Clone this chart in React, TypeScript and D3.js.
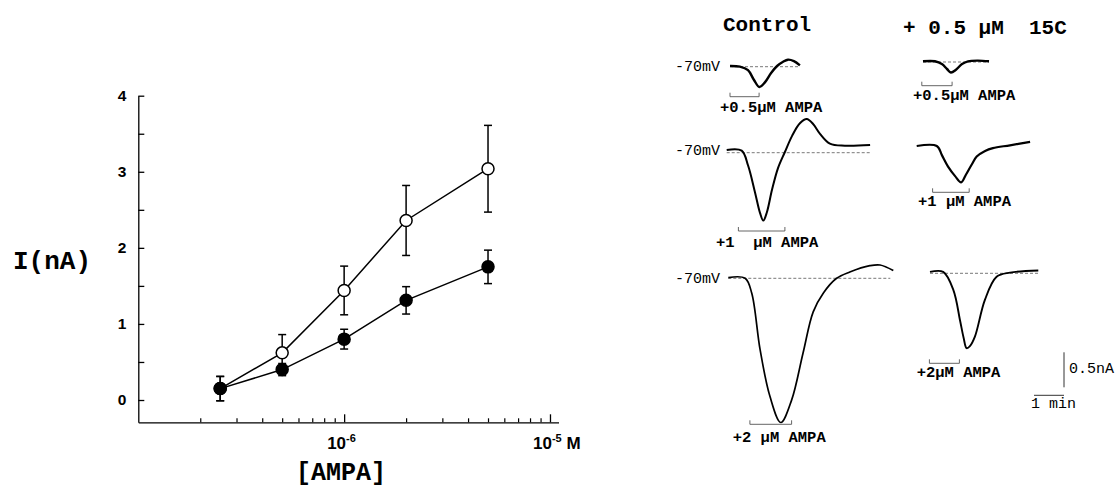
import React, { useEffect, useRef } from "react";
import * as d3 from "d3";

// dose-response: [AMPA] (M) vs current (nA)
const concentrations = [2.5e-7, 5e-7, 1e-6, 2e-6, 5e-6];
const filledMean = [0.15, 0.4, 0.8, 1.31, 1.75];
const filledSem = [0.16, 0.08, 0.13, 0.18, 0.22];
const openMean = [0.15, 0.62, 1.44, 2.36, 3.04];
const openSem = [0.16, 0.24, 0.32, 0.46, 0.57];
const yTicks = [0, 1, 2, 3, 4];
const yMinorTicks = [0.5, 1.5, 2.5, 3.5];
const xMajorTicks = [1e-6, 1e-5];
const xMinorTicks = [2, 3, 4, 5, 6, 7, 8, 9].flatMap((m) => [m * 1e-7, m * 1e-6]);

// current traces: [time (min), current (nA)], inward current negative
const ctrl05: [number, number][] = [
  [0, 0.01], [0.33, 0], [0.6, -0.05], [0.8, -0.19], [0.98, -0.29], [1.17, -0.22],
  [1.37, -0.09], [1.57, 0.01], [1.77, 0.07], [1.93, 0.1], [2.13, 0.08], [2.33, 0.02],
];
const ctrl1: [number, number][] = [
  [0, 0.04], [0.5, 0.03], [0.71, -0.18], [0.94, -0.56], [1.11, -0.86], [1.22, -0.97],
  [1.34, -0.85], [1.51, -0.53], [1.71, -0.22], [1.94, 0.01], [2.18, 0.24], [2.44, 0.42],
  [2.67, 0.48], [2.88, 0.41], [3.11, 0.27], [3.44, 0.13], [3.94, 0.1], [4.78, 0.11],
];
const ctrl2: [number, number][] = [
  [0, 0.01], [0.56, 0], [0.78, -0.21], [1.06, -1.02], [1.39, -1.69], [1.75, -2.06],
  [2.11, -1.74], [2.49, -1.07], [2.83, -0.48], [3.17, -0.21], [3.61, 0], [4.05, 0.09],
  [4.72, 0.18], [5.06, 0.19], [5.5, 0.11],
];
const c15_05: [number, number][] = [
  [0, 0.01], [0.4, 0.01], [0.63, -0.03], [0.8, -0.1], [0.93, -0.15], [1.1, -0.11],
  [1.3, -0.03], [1.5, 0.01], [1.83, 0.02], [2.2, 0.01],
];
const c15_1: [number, number][] = [
  [0, 0], [0.67, 0], [0.84, -0.13], [1.04, -0.29], [1.28, -0.43], [1.48, -0.52],
  [1.64, -0.41], [1.84, -0.26], [2.0, -0.15], [2.28, -0.07], [2.54, -0.03], [3.11, 0.01],
  [3.78, 0.06],
];
const c15_2: [number, number][] = [
  [0, 0.02], [0.44, 0.02], [0.78, -0.24], [1.0, -0.67], [1.12, -0.92], [1.22, -1.07],
  [1.33, -1.04], [1.5, -0.9], [1.83, -0.38], [2.22, -0.05], [2.67, 0.01], [3.61, 0.04],
];

const traceLabels = ["+0.5\u03bcM AMPA", "+1  \u03bcM AMPA", "+2 \u03bcM AMPA", "+0.5\u03bcM AMPA", "+1 \u03bcM AMPA", "+2\u03bcM AMPA"];
const applyStart = [0, 0.39, 0.72, -0.04, 0.53, -0.02];
const applyEnd = [0.97, 1.94, 2.11, 0.97, 1.75, 0.98];
const baselineEnd = [2.33, 4.78, 5.4, 2.2, 0, 3.6];

const MONO = "'Liberation Mono', 'Courier New', monospace";
const SANS = "'Liberation Sans', Arial, sans-serif";

export default function App() {
  const ref = useRef<SVGSVGElement | null>(null);

  useEffect(() => {
    document.body.style.margin = "0";
    const svg = d3.select(ref.current);
    svg.selectAll("*").remove();

    // ---------- left: dose-response ----------
    const x = d3.scaleLog().domain([1e-7, 1.1e-5]).range([138.3, 558.5]);
    const y = d3.scaleLinear().domain([-0.293, 4]).range([422.3, 95.7]);

    const yAxis = svg
      .append("g")
      .attr("transform", `translate(${x.range()[0]},0)`)
      .call(
        d3
          .axisLeft(y)
          .tickValues([...yTicks, ...yMinorTicks])
          .tickSizeInner(-6)
          .tickSizeOuter(0)
          .tickPadding(12)
          .tickFormat((d) => (Number.isInteger(+d) ? String(d) : ""))
      );
    yAxis.selectAll("path,line").attr("stroke", "#000").attr("stroke-width", 1.3);
    yAxis
      .selectAll("text")
      .style("font-family", SANS)
      .style("font-weight", "bold")
      .style("font-size", "15.5px")
      .attr("fill", "#000");

    const xBase = y.range()[0];
    const xAxis = svg
      .append("g")
      .attr("transform", `translate(0,${xBase})`)
      .call(d3.axisBottom(x).tickValues(xMajorTicks).tickSizeInner(-8).tickSizeOuter(0).tickFormat(() => ""));
    xAxis.selectAll("path,line").attr("stroke", "#000").attr("stroke-width", 1.3);
    const xMinor = svg
      .append("g")
      .attr("transform", `translate(0,${xBase})`)
      .call(d3.axisBottom(x).tickValues(xMinorTicks).tickSizeInner(-4).tickSizeOuter(0).tickFormat(() => ""));
    xMinor.select("path").remove();
    xMinor.selectAll("line").attr("stroke", "#000").attr("stroke-width", 1.2);

    // x tick labels with superscript exponent
    const xl = [
      { v: 1e-6, exp: "-6", unit: "" },
      { v: 1e-5, exp: "-5", unit: " M" },
    ];
    xl.forEach((t) => {
      const txt = svg
        .append("text")
        .attr("x", x(t.v) - 17)
        .attr("y", 449)
        .style("font-family", SANS)
        .style("font-weight", "bold")
        .style("font-size", "17px")
        .attr("fill", "#000");
      txt.append("tspan").text("10");
      txt.append("tspan").attr("dy", -7).style("font-size", "11px").text(t.exp);
      if (t.unit) txt.append("tspan").attr("dy", 7).style("font-size", "17px").text(t.unit);
    });

    svg
      .append("text")
      .attr("x", 52)
      .attr("y", 269)
      .attr("text-anchor", "middle")
      .style("font-family", MONO)
      .style("font-weight", "bold")
      .style("font-size", "26px")
      .text("I(nA)");

    svg
      .append("text")
      .attr("x", 341)
      .attr("y", 480)
      .attr("text-anchor", "middle")
      .style("font-family", MONO)
      .style("font-weight", "bold")
      .style("font-size", "25px")
      .text("[AMPA]");

    const line = d3
      .line<number>()
      .x((_, i) => x(concentrations[i]))
      .y((d) => y(d));

    const series = [
      { mean: openMean, sem: openSem, fill: "#fff" },
      { mean: filledMean, sem: filledSem, fill: "#000" },
    ];

    series.forEach((s) => {
      svg
        .append("path")
        .datum(s.mean)
        .attr("d", line)
        .attr("fill", "none")
        .attr("stroke", "#000")
        .attr("stroke-width", 1.5);
    });

    series.forEach((s) => {
      const g = svg.append("g");
      s.mean.forEach((m, i) => {
        const cx = x(concentrations[i]);
        const lo = y(m - s.sem[i]);
        const hi = y(m + s.sem[i]);
        g.append("line").attr("x1", cx).attr("x2", cx).attr("y1", lo).attr("y2", hi).attr("stroke", "#000").attr("stroke-width", 1.5);
        [lo, hi].forEach((yy) =>
          g.append("line").attr("x1", cx - 4).attr("x2", cx + 4).attr("y1", yy).attr("y2", yy).attr("stroke", "#000").attr("stroke-width", 1.5)
        );
      });
      g.selectAll("circle")
        .data(s.mean)
        .join("circle")
        .attr("cx", (_, i) => x(concentrations[i]))
        .attr("cy", (d) => y(d))
        .attr("r", 6)
        .attr("fill", s.fill)
        .attr("stroke", "#000")
        .attr("stroke-width", 1.5);
    });

    // ---------- right: current traces ----------
    const tScale = d3.scaleLinear().domain([0, 1]).range([0, 30]); // 1 min = 30 px
    const iScale = d3.scaleLinear().domain([0, -0.5]).range([0, 35]); // 0.5 nA = 35 px

    const traces = [ctrl05, ctrl1, ctrl2, c15_05, c15_1, c15_2];
    const layout = [
      { x0: 730, y0: 66.7, by: 96.7, lx: 720, ly: 111.7, w: 2.4 },
      { x0: 726.7, y0: 152.7, by: 231, lx: 716, ly: 246.5, w: 2 },
      { x0: 728.3, y0: 278.3, by: 424.3, lx: 732.7, ly: 442.3, w: 1.7 },
      { x0: 923, y0: 62, by: 85.7, lx: 913, ly: 100, w: 2.4 },
      { x0: 916.7, y0: 146, by: 192.3, lx: 918, ly: 205.7, w: 2.2 },
      { x0: 930, y0: 273.3, by: 363.3, lx: 916.7, ly: 376.7, w: 1.9 },
    ];
    const vLabelY = [71, 155, 283.3];

    const mono = (sel: d3.Selection<SVGTextElement, unknown, null, undefined>, size: number, weight = "bold") =>
      sel.style("font-family", MONO).style("font-weight", weight).style("font-size", `${size}px`).attr("fill", "#000");

    mono(svg.append("text").attr("x", 723).attr("y", 31).text("Control"), 21);
    mono(svg.append("text").attr("x", 903).attr("y", 34.3).style("white-space", "pre").text("+ 0.5 \u03bcM  15C"), 21);

    vLabelY.forEach((ly) => mono(svg.append("text").attr("x", 675).attr("y", ly).text("-70mV"), 15, "normal"));

    traces.forEach((tr, k) => {
      const L = layout[k];
      const g = svg.append("g");
      if (baselineEnd[k] > 0) {
        g.append("line")
          .attr("x1", L.x0)
          .attr("x2", L.x0 + tScale(baselineEnd[k]))
          .attr("y1", L.y0)
          .attr("y2", L.y0)
          .attr("stroke", "#555")
          .attr("stroke-width", 0.8)
          .attr("stroke-dasharray", "3,2");
      }
      const tl = d3
        .line<[number, number]>()
        .x((d) => L.x0 + tScale(d[0]))
        .y((d) => L.y0 + iScale(d[1]))
        .curve(d3.curveCatmullRom.alpha(0.5));
      g.append("path")
        .datum(tr)
        .attr("d", tl)
        .attr("fill", "none")
        .attr("stroke", "#000")
        .attr("stroke-width", L.w)
        .attr("stroke-linejoin", "round");

      const bx1 = L.x0 + tScale(applyStart[k]);
      const bx2 = L.x0 + tScale(applyEnd[k]);
      g.append("path")
        .attr("d", `M${bx1},${L.by - 4}V${L.by}H${bx2}V${L.by - 4}`)
        .attr("fill", "none")
        .attr("stroke", "#555")
        .attr("stroke-width", 0.9);
      mono(g.append("text").attr("x", L.lx).attr("y", L.ly).style("white-space", "pre").text(traceLabels[k]), 15.5);
    });

    // scale bars
    const sbx = 1064;
    const sby = 387.3;
    svg
      .append("path")
      .attr("d", `M${sbx},${sby - iScale(-0.5)}V${sby}`)
      .attr("stroke", "#333")
      .attr("stroke-width", 1);
    svg
      .append("path")
      .attr("d", `M${sbx - tScale(1)},395.3H${sbx}`)
      .attr("stroke", "#333")
      .attr("stroke-width", 1);
    mono(svg.append("text").attr("x", 1069).attr("y", 372.7).text("0.5nA"), 15, "normal");
    mono(svg.append("text").attr("x", 1031).attr("y", 408.3).text("1 min"), 15, "normal");
  }, []);

  return <svg ref={ref} width={1117} height={488} style={{ display: "block", background: "#fff" }} />;
}
